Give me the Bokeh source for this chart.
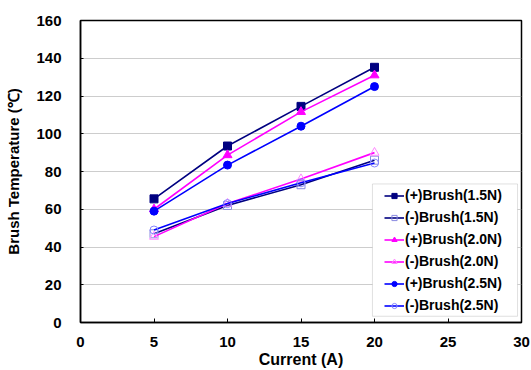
from bokeh.plotting import figure
from bokeh.models import Range1d, FixedTicker, Legend, LegendItem, BoxAnnotation
from bokeh.embed import file_html
from bokeh.resources import INLINE

current = [5, 10, 15, 20]
pos_15 = [65.5, 93.5, 114.5, 135.2]
neg_15 = [47.0, 62.0, 73.0, 86.0]
pos_20 = [60.0, 88.7, 111.6, 131.0]
neg_20 = [45.5, 63.0, 76.0, 90.0]
pos_25 = [59.0, 83.4, 104.0, 125.0]
neg_25 = [49.0, 63.0, 74.0, 84.5]
x_ticks = [0, 5, 10, 15, 20, 25, 30]
y_ticks = [0, 20, 40, 60, 80, 100, 120, 140, 160]

FONT = "Liberation Sans"

p = figure(width=531, height=370, output_backend="svg", toolbar_location=None,
           x_range=Range1d(0, 30), y_range=Range1d(0, 160),
           min_border_left=80, min_border_right=10, min_border_top=20, min_border_bottom=47)
p.background_fill_color = "white"
p.border_fill_color = "white"
p.outline_line_color = "black"
p.outline_line_width = 1.5

p.xgrid.grid_line_color = None
p.ygrid.grid_line_color = "#9a9a9a"
p.ygrid.grid_line_dash = "1 1"
p.ygrid.grid_line_width = 1

p.xaxis.ticker = FixedTicker(ticks=x_ticks)
p.yaxis.ticker = FixedTicker(ticks=y_ticks)
for ax in (p.xaxis, p.yaxis):
    ax.axis_line_color = "black"
    ax.axis_line_width = 1.5
    ax.major_tick_out = 0
    ax.minor_tick_out = 0
    ax.minor_tick_in = 0
    ax.major_tick_line_color = "black"
    ax.major_label_text_font = FONT
    ax.major_label_text_font_style = "bold"
    ax.major_label_text_font_size = "15px"
    ax.major_label_text_color = "black"
    ax.axis_label_text_font = FONT
    ax.axis_label_text_font_style = "bold"
    ax.axis_label_text_color = "black"
p.xaxis.axis_label_text_font_size = "16px"
p.yaxis.axis_label_text_font_size = "15px"
p.xaxis.major_tick_in = 4
p.yaxis.major_tick_in = 3
p.xaxis.major_label_standoff = 14
p.yaxis.major_label_standoff = 19
p.xaxis.axis_label = "Current (A)"
p.yaxis.axis_label = "Brush Temperature (\u2103)"
p.xaxis.axis_label_standoff = 1
p.yaxis.axis_label_standoff = 11

series = [
    ("(+)Brush(1.5N)", pos_15, "#000080", "square", "#000080", "#000080"),
    ("(-)Brush(1.5N)", neg_15, "#000080", "square", "#8a8ae0", None),
    ("(+)Brush(2.0N)", pos_20, "#ff00ff", "triangle", "#ff00ff", "#ff00ff"),
    ("(-)Brush(2.0N)", neg_20, "#ff00ff", "triangle", "#ff88ff", None),
    ("(+)Brush(2.5N)", pos_25, "#0000ff", "circle", "#0000ff", "#0000ff"),
    ("(-)Brush(2.5N)", neg_25, "#0000ff", "circle", "#8888ff", None),
]

# legend frame (drawn behind the legend entries)
p.add_layout(BoxAnnotation(left=19.86, right=29.73, bottom=3.3, top=73.4,
                           fill_color="white", fill_alpha=1.0,
                           line_color="#999999", line_width=1, level="underlay"))

items = []
for name, vals, col, mk, mcol, fill in series:
    l = p.line(current, vals, line_color=col, line_width=1.6)
    m = p.scatter(current, vals, marker=mk, size=8 if mk != "triangle" else 9,
                  line_color=mcol, fill_color=fill if fill else "white",
                  fill_alpha=1.0 if fill else 0.0, line_width=1)
    items.append(LegendItem(label=name, renderers=[l, m]))

legend = Legend(items=items, location=(304, 7))
legend.margin = 0
legend.padding = 1
legend.spacing = 2
legend.glyph_height = 13
legend.label_height = 20
legend.glyph_width = 20
legend.label_standoff = 1
legend.label_text_font = FONT
legend.label_text_font_style = "bold"
legend.label_text_font_size = "14px"
legend.label_text_color = "black"
legend.border_line_color = None
legend.background_fill_alpha = 0.0
p.add_layout(legend)

open("out.html", "w").write(file_html(p, INLINE))
